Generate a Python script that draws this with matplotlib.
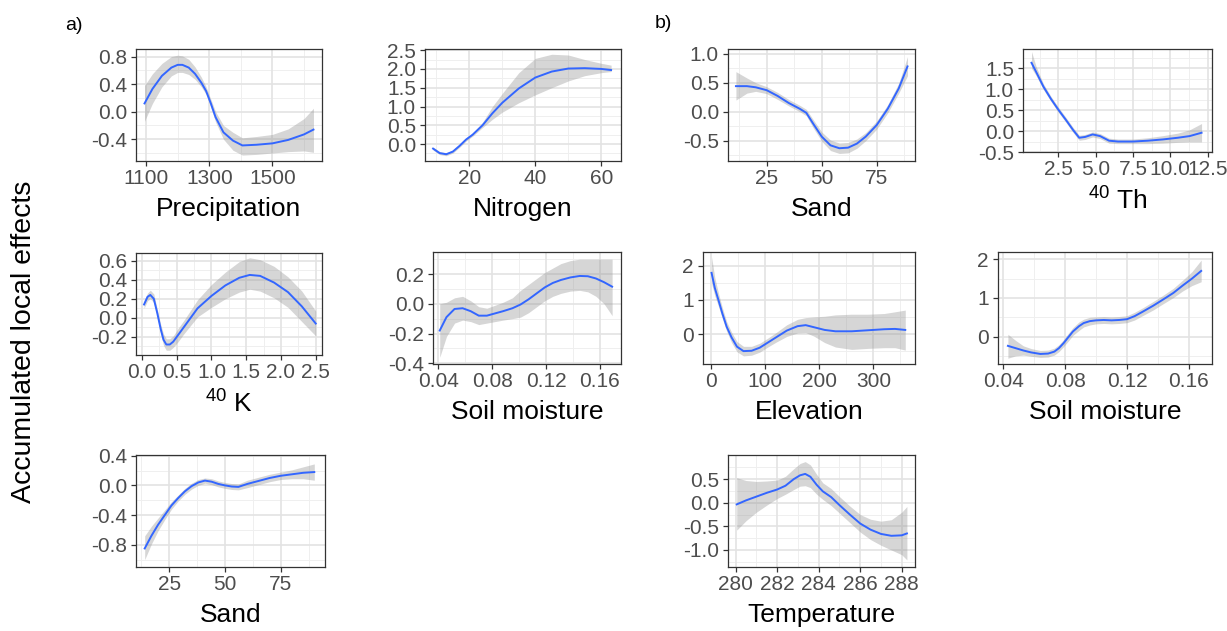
import numpy as np
import matplotlib
matplotlib.use("Agg")
import matplotlib.pyplot as plt

plt.rcParams["font.family"] = ["Liberation Sans", "DejaVu Sans"]
plt.rcParams["mathtext.fontset"] = "custom"
plt.rcParams["mathtext.rm"] = "Liberation Sans"
plt.rcParams["mathtext.it"] = "Liberation Sans:italic"
plt.rcParams["mathtext.bf"] = "Liberation Sans:bold"
plt.rcParams["axes.unicode_minus"] = False

# ---- data (x, fit, lower band, upper band) ----

# a) Precipitation
precip_x = [1095, 1120, 1150, 1180, 1200, 1215, 1235, 1255, 1275, 1290, 1305, 1320, 1345, 1375, 1405, 1450, 1500, 1550, 1600, 1630]
precip_y = [0.12, 0.33, 0.52, 0.64, 0.68, 0.68, 0.64, 0.55, 0.42, 0.30, 0.12, -0.08, -0.30, -0.42, -0.49, -0.48, -0.46, -0.41, -0.33, -0.26]
precip_lo = [-0.14, 0.12, 0.36, 0.52, 0.57, 0.57, 0.54, 0.47, 0.36, 0.25, 0.06, -0.15, -0.40, -0.56, -0.63, -0.62, -0.60, -0.58, -0.57, -0.59]
precip_hi = [0.38, 0.55, 0.70, 0.80, 0.82, 0.81, 0.76, 0.65, 0.50, 0.36, 0.18, 0.00, -0.20, -0.30, -0.38, -0.36, -0.33, -0.25, -0.10, 0.05]

# a) Nitrogen
nitro_x = [9, 11, 13, 15, 17, 19, 21, 24, 27, 30, 35, 40, 45, 50, 55, 60, 63]
nitro_y = [-0.12, -0.24, -0.27, -0.20, -0.05, 0.12, 0.25, 0.50, 0.82, 1.10, 1.48, 1.77, 1.93, 2.01, 2.02, 2.00, 1.97]
nitro_lo = [-0.16, -0.28, -0.31, -0.24, -0.09, 0.08, 0.21, 0.44, 0.66, 0.85, 1.10, 1.31, 1.50, 1.68, 1.82, 1.90, 1.93]
nitro_hi = [-0.08, -0.20, -0.23, -0.16, -0.01, 0.16, 0.29, 0.58, 1.00, 1.35, 1.90, 2.28, 2.39, 2.37, 2.25, 2.15, 2.10]

# a) 40K
k_x = [0.03, 0.08, 0.12, 0.17, 0.22, 0.27, 0.31, 0.35, 0.40, 0.45, 0.52, 0.6, 0.8, 1.0, 1.2, 1.4, 1.55, 1.7, 1.9, 2.1, 2.3, 2.5]
k_y = [0.14, 0.22, 0.24, 0.20, 0.05, -0.12, -0.23, -0.28, -0.28, -0.25, -0.18, -0.10, 0.10, 0.23, 0.34, 0.42, 0.45, 0.44, 0.37, 0.27, 0.12, -0.06]
k_lo = [0.10, 0.18, 0.20, 0.16, 0.01, -0.17, -0.29, -0.34, -0.34, -0.31, -0.25, -0.17, 0.01, 0.11, 0.20, 0.27, 0.30, 0.28, 0.21, 0.11, -0.04, -0.19]
k_hi = [0.18, 0.26, 0.29, 0.25, 0.09, -0.07, -0.17, -0.22, -0.22, -0.19, -0.11, -0.03, 0.19, 0.35, 0.48, 0.59, 0.63, 0.61, 0.54, 0.43, 0.28, 0.07]

# a) Soil moisture
soil_a_x = [0.041, 0.046, 0.052, 0.058, 0.064, 0.070, 0.076, 0.082, 0.088, 0.095, 0.101, 0.107, 0.113,
            0.119, 0.125, 0.131, 0.138, 0.145, 0.151, 0.157, 0.163, 0.169]
soil_a_y = [-0.18, -0.09, -0.035, -0.03, -0.05, -0.08, -0.08, -0.065, -0.05, -0.03, -0.005, 0.03, 0.07,
            0.11, 0.14, 0.16, 0.177, 0.187, 0.185, 0.17, 0.145, 0.115]
soil_a_lo = [-0.36, -0.22, -0.13, -0.11, -0.12, -0.14, -0.13, -0.12, -0.11, -0.10, -0.09, -0.06, -0.02,
             0.02, 0.05, 0.07, 0.085, 0.09, 0.08, 0.05, 0.0, -0.08]
soil_a_hi = [0.0, 0.01, 0.04, 0.05, 0.02, -0.02, -0.03, -0.01, 0.01, 0.04, 0.09, 0.13, 0.17,
             0.21, 0.24, 0.27, 0.29, 0.30, 0.30, 0.30, 0.30, 0.30]

# a) Sand
sand_a_x = [14, 17, 20, 23, 26, 29, 32, 35, 38, 41, 44, 47, 50, 53, 56, 60, 65, 70, 75, 80, 85, 90]
sand_a_y = [-0.85, -0.68, -0.53, -0.40, -0.27, -0.17, -0.08, -0.01, 0.04, 0.065, 0.05, 0.02, 0.0, -0.015,
            -0.02, 0.02, 0.06, 0.10, 0.13, 0.15, 0.17, 0.18]
sand_a_lo = [-1.00, -0.79, -0.61, -0.46, -0.32, -0.21, -0.12, -0.05, 0.0, 0.03, 0.01, -0.02, -0.04, -0.055,
             -0.06, -0.03, 0.01, 0.05, 0.08, 0.09, 0.09, 0.07]
sand_a_hi = [-0.68, -0.55, -0.44, -0.33, -0.22, -0.13, -0.04, 0.03, 0.08, 0.10, 0.09, 0.06, 0.04, 0.025,
             0.02, 0.07, 0.11, 0.15, 0.18, 0.21, 0.25, 0.29]

# b) Sand
sand_b_x = [11, 16, 20, 25, 30, 35, 40, 43, 46, 50, 54, 58, 62, 66, 70, 75, 80, 85, 89]
sand_b_y = [0.44, 0.44, 0.42, 0.37, 0.27, 0.15, 0.05, -0.02, -0.20, -0.43, -0.58, -0.63, -0.62, -0.55, -0.43,
            -0.23, 0.05, 0.40, 0.78]
sand_b_lo = [0.20, 0.32, 0.35, 0.31, 0.21, 0.10, 0.0, -0.07, -0.27, -0.51, -0.67, -0.72, -0.71, -0.63, -0.50,
             -0.30, -0.02, 0.32, 0.62]
sand_b_hi = [0.69, 0.58, 0.50, 0.43, 0.33, 0.21, 0.11, 0.04, -0.13, -0.35, -0.49, -0.54, -0.53, -0.47, -0.36,
             -0.16, 0.12, 0.49, 0.95]

# b) 40Th
th_x = [0.7, 1.0, 1.5, 2.0, 2.5, 3.0, 3.5, 3.9, 4.3, 4.8, 5.3, 5.9, 6.5, 7.5, 8.5, 9.5, 10.5, 11.3, 12.1]
th_y = [1.63, 1.42, 1.06, 0.77, 0.51, 0.27, 0.02, -0.16, -0.14, -0.08, -0.12, -0.23, -0.25, -0.25, -0.23,
        -0.20, -0.16, -0.12, -0.04]
th_lo = [1.50, 1.33, 0.99, 0.71, 0.45, 0.21, -0.04, -0.22, -0.20, -0.14, -0.18, -0.29, -0.30, -0.30, -0.30,
         -0.29, -0.27, -0.26, -0.26]
th_hi = [1.90, 1.55, 1.13, 0.83, 0.57, 0.33, 0.08, -0.10, -0.08, -0.02, -0.06, -0.17, -0.19, -0.19, -0.16,
         -0.11, -0.05, 0.03, 0.18]

# b) Elevation
elev_x = [1, 7, 14, 21, 29, 38, 48, 60, 75, 90, 105, 120, 140, 160, 175, 190, 210, 230, 260, 290, 320, 340, 359]
elev_y = [1.79, 1.35, 0.98, 0.60, 0.21, -0.10, -0.37, -0.50, -0.49, -0.40, -0.25, -0.10, 0.10, 0.23, 0.26,
          0.20, 0.12, 0.08, 0.08, 0.11, 0.14, 0.15, 0.12]
elev_lo = [1.48, 1.12, 0.80, 0.45, 0.08, -0.25, -0.52, -0.64, -0.62, -0.53, -0.38, -0.24, -0.07, 0.03, 0.04,
           -0.06, -0.25, -0.38, -0.45, -0.42, -0.40, -0.40, -0.47]
elev_hi = [2.26, 1.65, 1.18, 0.77, 0.36, 0.05, -0.22, -0.36, -0.36, -0.27, -0.12, 0.04, 0.27, 0.43, 0.48,
           0.50, 0.52, 0.56, 0.58, 0.58, 0.60, 0.65, 0.70]

# b) Soil moisture
soil_b_x = [0.043, 0.048, 0.053, 0.058, 0.064, 0.069, 0.073, 0.076, 0.079, 0.082, 0.085, 0.089, 0.092, 0.096,
            0.100, 0.105, 0.110, 0.115, 0.120, 0.125, 0.130, 0.137, 0.143, 0.150, 0.156, 0.162, 0.168]
soil_b_y = [-0.24, -0.30, -0.36, -0.41, -0.45, -0.44, -0.39, -0.30, -0.17, -0.02, 0.13, 0.27, 0.35, 0.40,
            0.42, 0.43, 0.42, 0.43, 0.45, 0.53, 0.64, 0.80, 0.95, 1.13, 1.32, 1.50, 1.70]
soil_b_lo = [-0.56, -0.50, -0.48, -0.51, -0.54, -0.53, -0.48, -0.39, -0.26, -0.12, 0.03, 0.16, 0.25, 0.30,
             0.33, 0.34, 0.33, 0.34, 0.36, 0.43, 0.54, 0.69, 0.84, 1.01, 1.18, 1.32, 1.42]
soil_b_hi = [0.06, -0.10, -0.24, -0.31, -0.36, -0.35, -0.30, -0.21, -0.08, 0.08, 0.23, 0.38, 0.45, 0.50,
             0.51, 0.52, 0.51, 0.52, 0.54, 0.63, 0.74, 0.91, 1.06, 1.25, 1.46, 1.68, 1.98]

# b) Temperature
temp_x = [280.05, 280.5, 281.0, 281.5, 282.0, 282.4, 282.8, 283.1, 283.35, 283.6, 283.9, 284.2, 284.6, 285.0,
          285.5, 286.0, 286.5, 287.0, 287.5, 288.0, 288.25]
temp_y = [-0.035, 0.05, 0.13, 0.21, 0.28, 0.36, 0.50, 0.58, 0.61, 0.55, 0.38, 0.24, 0.12, -0.05, -0.25, -0.44,
          -0.57, -0.66, -0.70, -0.69, -0.65]
temp_lo = [-0.58, -0.38, -0.20, -0.05, 0.09, 0.18, 0.28, 0.35, 0.36, 0.32, 0.18, 0.07, -0.06, -0.22, -0.42,
           -0.62, -0.78, -0.90, -1.00, -1.10, -1.21]
temp_hi = [0.53, 0.47, 0.45, 0.46, 0.48, 0.56, 0.72, 0.83, 0.87, 0.80, 0.60, 0.42, 0.30, 0.13, -0.07, -0.25,
           -0.35, -0.39, -0.36, -0.20, -0.08]

# tick labels
precip_xt = ["1100", "1300", "1500"]
precip_yt = ["-0.4", "0.0", "0.4", "0.8"]
nitro_xt = ["20", "40", "60"]
nitro_yt = ["0.0", "0.5", "1.0", "1.5", "2.0", "2.5"]
k_xt = ["0.0", "0.5", "1.0", "1.5", "2.0", "2.5"]
k_yt = ["-0.2", "0.0", "0.2", "0.4", "0.6"]
soil_xt = ["0.04", "0.08", "0.12", "0.16"]
soil_a_yt = ["-0.4", "-0.2", "0.0", "0.2"]
sand_xt = ["25", "50", "75"]
sand_a_yt = ["-0.8", "-0.4", "0.0", "0.4"]
sand_b_yt = ["-0.5", "0.0", "0.5", "1.0"]
th_xt = ["2.5", "5.0", "7.5", "10.0", "12.5"]
th_yt = ["-0.5", "0.0", "0.5", "1.0", "1.5"]
elev_xt = ["0", "100", "200", "300"]
int_yt = ["0", "1", "2"]
temp_xt = ["280", "282", "284", "286", "288"]
temp_yt = ["-1.0", "-0.5", "0.0", "0.5"]

W, H = 1227, 631
fig = plt.figure(figsize=(W / 100, H / 100), dpi=100)


def to_num(labels):
    return [float(s) for s in labels]


def panel(box, x, y, lo, hi, xt, yt, xlim, ylim, xlabel):
    # box = (left, top, right, bottom) in pixels
    l, t, r, b = box
    ax = fig.add_axes([l / W, 1 - b / H, (r - l) / W, (b - t) / H])
    xs, ys = to_num(xt), to_num(yt)
    # minor grid halfway between breaks, like ggplot
    dx, dy = xs[1] - xs[0], ys[1] - ys[0]
    mx = [v - dx / 2 for v in xs] + [xs[-1] + dx / 2]
    my = [v - dy / 2 for v in ys] + [ys[-1] + dy / 2]
    for v in mx:
        if xlim[0] < v < xlim[1]:
            ax.axvline(v, color="#EFEFEF", lw=0.7, zorder=0)
    for v in my:
        if ylim[0] < v < ylim[1]:
            ax.axhline(v, color="#EFEFEF", lw=0.7, zorder=0)
    for v in xs:
        ax.axvline(v, color="#E3E3E3", lw=1.2, zorder=0)
    for v in ys:
        ax.axhline(v, color="#E3E3E3", lw=1.2, zorder=0)
    ax.fill_between(x, lo, hi, color="#999999", alpha=0.4, lw=0, zorder=1)
    ax.plot(x, y, color="#3366FF", lw=1.4, zorder=2)
    ax.set_xlim(xlim)
    ax.set_ylim(ylim)
    ax.set_xticks(xs)
    ax.set_xticklabels(xt)
    ax.set_yticks(ys)
    ax.set_yticklabels(yt)
    ax.tick_params(length=3.5, width=0.9, color="#333333", labelcolor="#4D4D4D", labelsize=15)
    ax.tick_params(axis="x", pad=2.5)
    ax.tick_params(axis="y", pad=3)
    for s in ax.spines.values():
        s.set_color("#333333")
        s.set_linewidth(0.9)
    ax.set_xlabel(xlabel, fontsize=19, labelpad=6)
    return ax


panel((136, 49, 322, 161), precip_x, precip_y, precip_lo, precip_hi, precip_xt, precip_yt,
      (1068, 1657), (-0.716, 0.91), "Precipitation")
panel((425, 49, 621, 161), nitro_x, nitro_y, nitro_lo, nitro_hi, nitro_xt, nitro_yt,
      (6.55, 66.0), (-0.45, 2.53), "Nitrogen")
panel((728, 49, 915, 161), sand_b_x, sand_b_y, sand_b_lo, sand_b_hi, sand_xt, sand_b_yt,
      (7.4, 92.4), (-0.85, 1.08), "Sand")
panel((1023, 49, 1212, 152), th_x, th_y, th_lo, th_hi, th_xt, th_yt,
      (0.13, 12.8), (-0.5, 1.96), "$^{40}$ Th")
panel((136, 253, 322, 355), k_x, k_y, k_lo, k_hi, k_xt, k_yt,
      (-0.086, 2.59), (-0.39, 0.68), "$^{40}$ K")
panel((433, 252, 621, 364), soil_a_x, soil_a_y, soil_a_lo, soil_a_hi, soil_xt, soil_a_yt,
      (0.036, 0.1756), (-0.405, 0.348), "Soil moisture")
panel((703, 252, 915, 364), elev_x, elev_y, elev_lo, elev_hi, elev_xt, int_yt,
      (-14.8, 377), (-0.877, 2.40), "Elevation")
panel((998, 252, 1212, 364), soil_b_x, soil_b_y, soil_b_lo, soil_b_hi, soil_xt, int_yt,
      (0.0366, 0.175), (-0.71, 2.19), "Soil moisture")
panel((136, 455, 325, 567), sand_a_x, sand_a_y, sand_a_lo, sand_a_hi, sand_xt, sand_a_yt,
      (10.1, 94.8), (-1.10, 0.41), "Sand")
panel((728, 455, 915, 567), temp_x, temp_y, temp_lo, temp_hi, temp_xt, temp_yt,
      (279.63, 288.64), (-1.36, 1.01), "Temperature")

# panel tags and shared y label
fig.text(65 / W, 1 - 25 / H, "a)", fontsize=14, va="center", ha="left")
fig.text(655 / W, 1 - 24 / H, "b)", fontsize=14, va="center", ha="left")
fig.text(24 / W, 1 - 342 / H, "Accumulated local effects", fontsize=20.5, rotation=90,
         va="center", ha="center")

fig.savefig("out.png", dpi=100, facecolor="white")
